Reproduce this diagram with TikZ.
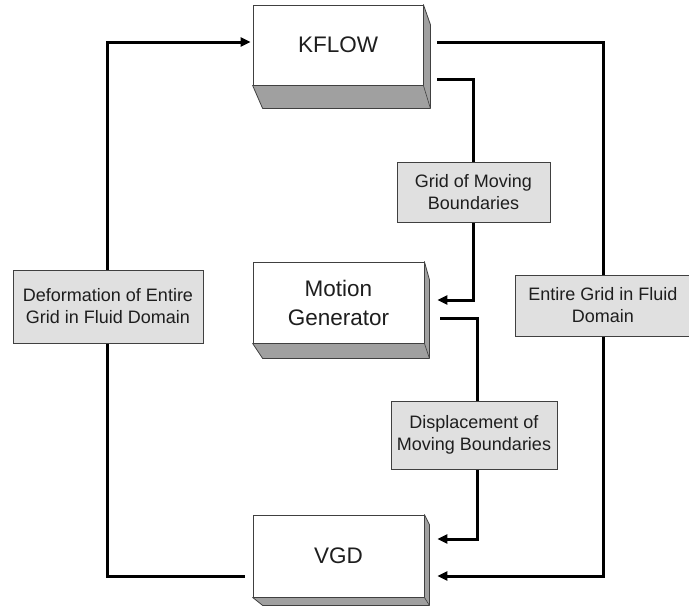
\documentclass[tikz,border=0pt]{standalone}
\usepackage{fontspec}
\setmainfont{Liberation Sans}
\usetikzlibrary{arrows.meta,calc}
\definecolor{edge}{HTML}{404040}
\definecolor{shadefill}{HTML}{A0A0A0}
\definecolor{lblfill}{HTML}{E0E0E0}
\definecolor{txt}{HTML}{1E1E1E}
\begin{document}
\begin{tikzpicture}[x=1pt,y=-1pt,
  block/.style={draw=edge, line width=0.8pt, fill=white, minimum width=171pt, minimum height=81pt, inner sep=0pt, align=center, text=txt, font=\fontsize{22.5}{29}\selectfont},
  blockshade/.style={fill=shadefill, draw=edge, line width=0.8pt, line join=round},
  lbl/.style={draw=edge, line width=0.8pt, fill=lblfill, align=center, inner sep=0pt, text=txt, font=\fontsize{18}{22}\selectfont},
  conn/.style={line width=3pt},
  arr/.style={conn, -{Triangle[length=10pt,width=9pt]}}]
\useasboundingbox (0,0) rectangle (689,606);
\fill[white] (0,0) rectangle (689,606);

% boxes
\node[block, minimum width=170pt, minimum height=80pt] (kflow) at (338,45) {KFLOW};
\node[block] (motion) at (338.5,302.5) {Motion\\Generator};
\node[block, minimum height=82pt] (vgd) at (338.5,556) {VGD};

% 3D shadows
\draw[blockshade] (kflow.south west) -- ([shift={(10,23)}]kflow.south west) -- ([shift={(7,23)}]kflow.south east) -- ([shift={(7,20)}]kflow.north east) -- (kflow.north east) -- (kflow.south east) -- cycle;
\draw[edge, line width=0.6pt] (kflow.south east) -- ([shift={(7,23)}]kflow.south east);
\draw[blockshade] (motion.south west) -- ([shift={(10,15)}]motion.south west) -- ([shift={(5,15)}]motion.south east) -- ([shift={(5,18)}]motion.north east) -- (motion.north east) -- (motion.south east) -- cycle;
\draw[edge, line width=0.6pt] (motion.south east) -- ([shift={(5,15)}]motion.south east);
\draw[blockshade] (vgd.south west) -- ([shift={(10,8)}]vgd.south west) -- ([shift={(5,8)}]vgd.south east) -- ([shift={(5,10)}]vgd.north east) -- (vgd.north east) -- (vgd.south east) -- cycle;
\draw[edge, line width=0.6pt] (vgd.south east) -- ([shift={(5,8)}]vgd.south east);

% connectors
\draw[arr] ([shift={(-8,20)}]vgd.west) -- (107,576) -- (107,42) -- ([shift={(-2,-3)}]kflow.west);
\draw[arr] ([shift={(14,-3)}]kflow.east) -- (603,42) -- (603,576) -- ([shift={(13,20)}]vgd.east);
\draw[arr] ([shift={(14,34)}]kflow.east) -- (473,79) -- (473,300) -- ([shift={(13,-2.5)}]motion.east);
\draw[arr] ([shift={(16,15.5)}]motion.east) -- (477,318) -- (477,539) -- ([shift={(13,-17)}]vgd.east);

% labels
\node[lbl, minimum width=190pt, minimum height=73pt] (ldef) at (108,306.5) {Deformation of Entire\\Grid in Fluid Domain};
\node[lbl, minimum width=153pt, minimum height=60pt] (lgrid) at (473.5,192) {Grid of Moving\\Boundaries};
\node[lbl, minimum width=176pt, minimum height=61pt] (lentire) at (603,305.5) {Entire Grid in Fluid\\Domain};
\node[lbl, minimum width=166pt, minimum height=68pt] (ldisp) at (474,435) {Displacement of\\Moving Boundaries};
\end{tikzpicture}
\end{document}
